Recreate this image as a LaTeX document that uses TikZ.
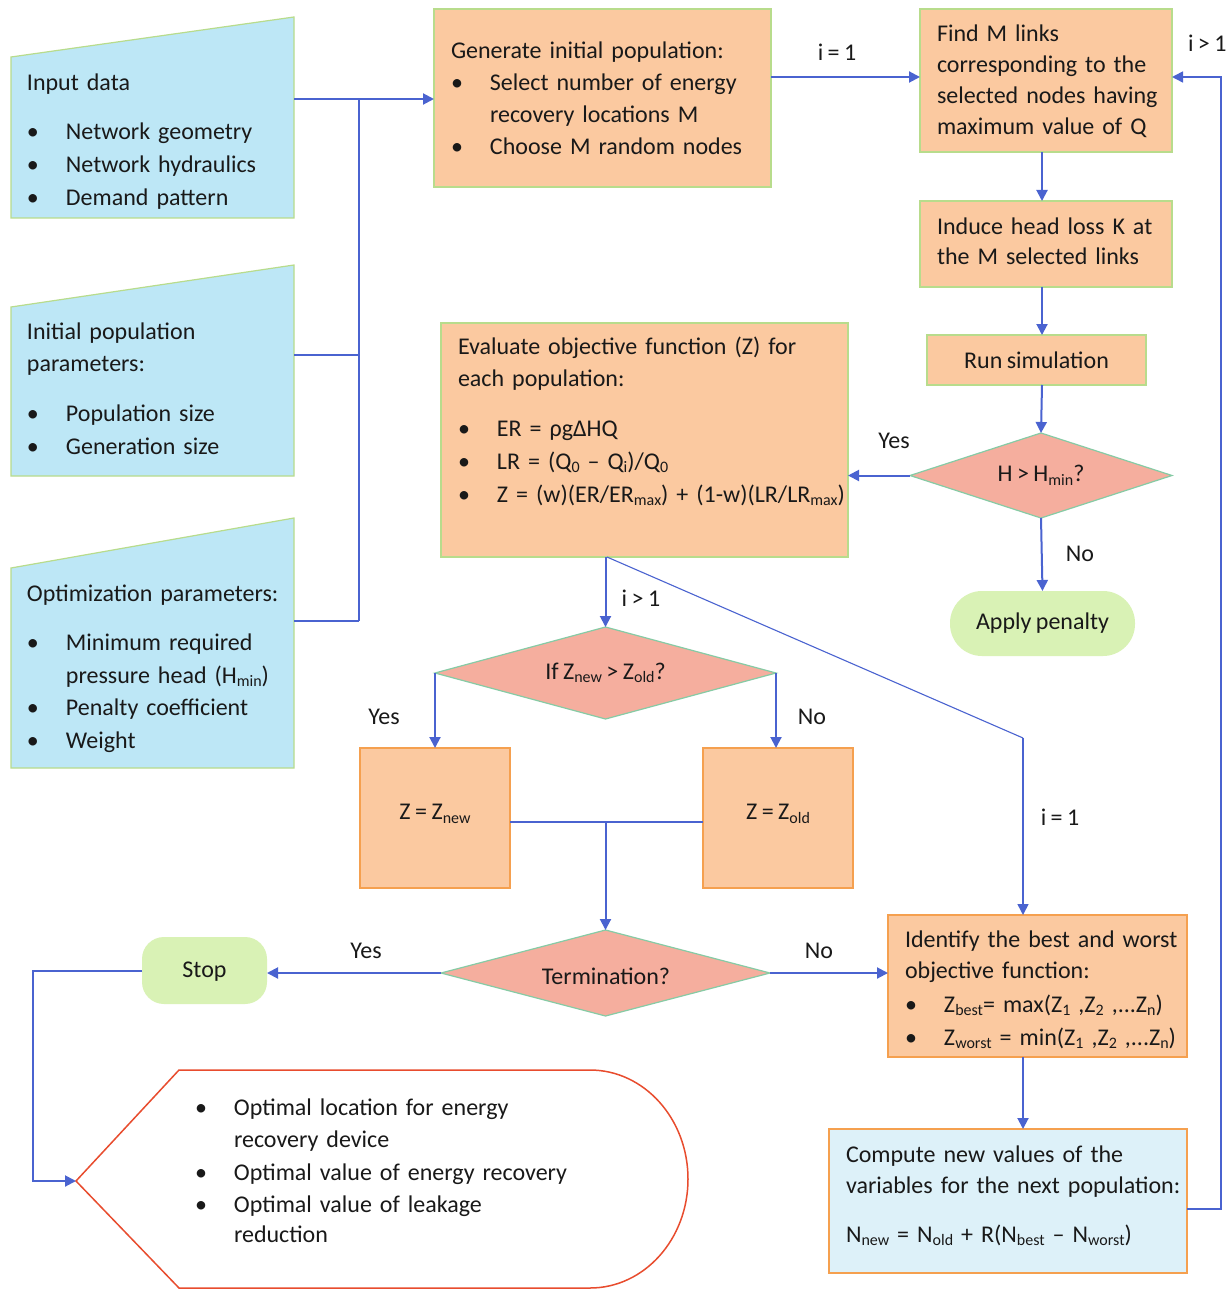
\documentclass[tikz,border=0pt]{standalone}
\usepackage{fontspec}
\setmainfont{Carlito}[WordSpace=0.82]
\usetikzlibrary{arrows.meta,shapes.geometric,calc}
\definecolor{peach}{HTML}{FBC9A0}
\definecolor{inblue}{HTML}{BDE7F6}
\definecolor{lightblue}{HTML}{DDF1F9}
\definecolor{boxgreen}{HTML}{B8DC8C}
\definecolor{boxorange}{HTML}{F5A04F}
\definecolor{salmon}{HTML}{F5AE9E}
\definecolor{diagreen}{HTML}{86CBA5}
\definecolor{termgreen}{HTML}{D9F2B5}
\definecolor{lineblue}{HTML}{4A63D0}
\definecolor{dispred}{HTML}{E84C2E}
\newcommand\bl[1]{\makebox[39pt][l]{\textbullet}#1}
\newcommand\ind{\hspace*{39pt}}
\newcommand\sbs[1]{\raisebox{-3.5pt}{\fontsize{16}{16}\selectfont #1}}
\begin{document}
\begin{tikzpicture}[x=1pt,y=-1pt,
 every node/.style={font=\fontsize{24}{32}\selectfont,inner sep=0pt,outer sep=0pt,text=black!90},
 arr/.style={draw=lineblue,line width=2pt,-{Triangle[length=11pt,width=11pt]}},
 midarr/.style={draw=lineblue,line width=1.6pt,-{Triangle[length=11pt,width=11pt]}},
 thinln/.style={draw=lineblue,line width=1.1pt},
 fbk/.style={draw=lineblue,line width=1.6pt,-{Triangle[length=11pt,width=11pt]}},
 inputbox/.style={fill=inblue,draw=boxgreen,line width=1.2pt},
 pbox/.style={rectangle,fill=peach,draw=boxgreen,line width=1.2pt},
 obox/.style={rectangle,fill=peach,draw=boxorange,line width=1.5pt},
 cbox/.style={rectangle,fill=lightblue,draw=boxorange,line width=1.5pt},
 dia/.style={diamond,aspect=3.5,fill=salmon,draw=diagreen,line width=1.2pt},
 termbox/.style={rectangle,rounded corners=#1,fill=termgreen},
 termbox/.default=20pt,
 txt/.style={anchor=base west,text width=420pt,align=left},
 lbl/.style={anchor=base}
]
\useasboundingbox (0,0) rectangle (1231,1289);
\fill[white] (0,0) rectangle (1231,1289);

% ---------- input shapes ----------
\filldraw[inputbox] (11,57) -- (294,17) -- (294,218) -- (11,218) -- cycle;
\filldraw[inputbox] (11,307) -- (294,265) -- (294,476) -- (11,476) -- cycle;
\filldraw[inputbox] (11,568) -- (294,518) -- (294,768) -- (11,768) -- cycle;
\coordinate (in1) at (294,99);
\coordinate (in2) at (294,355);
\coordinate (in3) at (294,621);
\coordinate (bus1) at (359,99);
\coordinate (bus3) at (359,621);

\node[txt] (in1-t) at (27,91) {Input data\\[17pt]\bl{Network geometry}\\[1pt]\bl{Network hydraulics}\\[1pt]\bl{Demand pattern}};
\node[txt] (in2-t) at (27,339) {Initial population\\parameters:\\[18pt]\bl{Population size}\\[1pt]\bl{Generation size}};
\node[txt] (in3-t) at (27,601) {Optimization parameters:\\[17pt]\bl{Minimum required}\\[1pt]\ind pressure head (H\sbs{min})\\[0pt]\bl{Penalty coefficient}\\[1pt]\bl{Weight}};

% ---------- boxes ----------
\node[pbox,minimum width=337pt,minimum height=178pt] (gen) at (602.5,98) {};
\node[txt] (gen-t) at (451,59) {Generate initial population:\\\bl{Select number of energy}\\\ind recovery locations M\\\bl{Choose M random nodes}};

\node[pbox,minimum width=252pt,minimum height=143pt] (find) at (1046,80.5) {};
\node[txt] (find-t) at (937,42) {Find M links\\[-1pt]corresponding to the\\[-1pt]selected nodes having\\[-1pt]maximum value of Q};

\node[pbox,minimum width=252pt,minimum height=86pt] (induce) at (1046,244) {};
\node[txt] (induce-t) at (937,234) {Induce head loss K at\\[-1pt]the M selected links};

\node[pbox,minimum width=219pt,minimum height=50pt] (run) at (1036.5,360) {Run simulation};

\node[dia,minimum width=262pt,minimum height=85pt] (dH) at (1041,475.5) {H > H\sbs{min}?};

\node[termbox=32pt,minimum width=185pt,minimum height=65pt] (apply) at (1042.5,623.5) {Apply penalty};

\node[pbox,minimum width=407pt,minimum height=234pt] (eval) at (644.5,440) {};
\node[txt] (eval-t) at (458,354) {Evaluate objective function (Z) for\\each population:\\[18pt]\bl{ER = ρgΔHQ}\\[1pt]\bl{LR = (Q\sbs{0} – Q\sbs{i})/Q\sbs{0}}\\[1pt]\bl{Z = (w)(ER/ER\sbs{max}) + (1-w)(LR/LR\sbs{max})}};

\node[dia,minimum width=341pt,minimum height=92pt] (dZ) at (605.5,673) {If Z\sbs{new} > Z\sbs{old}?};

\node[obox,minimum width=150pt,minimum height=140pt] (znew) at (435,818) {};
\node (znew-t) at (435,814) {Z = Z\sbs{new}};
\node[obox,minimum width=150pt,minimum height=140pt] (zold) at (778,818) {};
\node (zold-t) at (778,814) {Z = Z\sbs{old}};

\node[dia,minimum width=329pt,minimum height=86pt] (dT) at (605.5,973) {};
\node (dT-t) at (606,976) {Termination?};

\node[termbox=22pt,minimum width=125pt,minimum height=67pt] (stop) at (204.5,970.5) {};
\node (stop-t) at (204.5,972) {Stop};

\node[obox,minimum width=299pt,minimum height=142pt] (ident) at (1037.5,986) {};
\node[txt] (ident-t) at (905,947) {Identify the best and worst\\[-1pt]objective function:\\[2pt]\bl{Z\sbs{best}= max(Z\sbs{1} ,Z\sbs{2} ,...Z\sbs{n})}\\[1pt]\bl{Z\sbs{worst} = min(Z\sbs{1} ,Z\sbs{2} ,...Z\sbs{n})}};

\node[cbox,minimum width=358pt,minimum height=144pt] (comp) at (1008,1201) {};
\node[txt] (comp-t) at (846,1162) {Compute new values of the\\[-1pt]variables for the next population:\\[17pt]N\sbs{new} = N\sbs{old} + R(N\sbs{best} – N\sbs{worst})};

% ---------- display (output) shape ----------
\draw[dispred,line width=1.5pt,fill=white] (76,1181) -- (179,1070) -- (590,1070)
  arc[start angle=-90,end angle=90,x radius=98,y radius=109] -- (179,1288) -- cycle;
\coordinate (disp) at (76,1181);
\node[txt] (disp-t) at (195,1115) {\bl{Optimal location for energy}\\\ind recovery device\\[1pt]\bl{Optimal value of energy recovery}\\\bl{Optimal value of leakage}\\[-2pt]\ind reduction};

% ---------- connectors ----------
\draw[arr] (in1) -- (in1 -| gen.west);
\draw[thinln] (bus1) -- (bus3);
\draw[thinln] (in2) -- (in2 -| bus1);
\draw[thinln] (in3) -- (bus3);

\coordinate (fe) at (1172,77);
\coordinate (vx) at (1042,0);
\draw[arr] (gen.east |- fe) -- (find.west |- fe);
\node[lbl] (l-i1) at (837,61) {i = 1};
\draw[arr] (find.south -| vx) -- (induce.north -| vx);
\draw[arr] (induce.south -| vx) -- (run.north -| vx);
\draw[arr] (run.south -| vx) -- (dH.north);
\draw[arr] (dH.west) -- (dH.west -| eval.east);
\node[lbl] (l-yes1) at (894,448) {Yes};
\draw[arr] (dH.south) -- (apply.north);
\node[lbl] (l-no1) at (1080,561) {No};

\draw[arr] (dZ.north |- eval.south) -- (dZ.north);
\node[lbl] (l-ig1) at (641,606) {i > 1};
\coordinate (dg0) at (607,557);
\coordinate (dg1) at (1023,738);
\draw[thinln] (dg0) -- (dg1);
\draw[midarr] (dg1) -- (dg1 |- ident.north);
\node[lbl] (l-i1b) at (1060,825) {i = 1};

\draw[arr] (dZ.west) -- (dZ.west |- znew.north);
\draw[arr] (dZ.east) -- (dZ.east |- zold.north);
\node[lbl] (l-yes2) at (384,724) {Yes};
\node[lbl] (l-no2) at (812,724) {No};
\coordinate (zj) at (605.5,822);
\draw[thinln] (znew.east |- zj) -- (zold.west |- zj);
\draw[arr] (zj) -- (dT.north);

\draw[arr] (dT.west) -- (dT.west -| stop.east);
\node[lbl] (l-yes3) at (366,958) {Yes};
\draw[arr] (dT.east) -- (dT.east -| ident.west);
\node[lbl] (l-no3) at (819,958) {No};

\coordinate (sl) at (33,971);
\draw[arr] (stop.west) -- (stop.west -| sl) -- (sl |- disp) -- (disp);

\coordinate (vx2) at (1023,0);
\draw[arr] (ident.south -| vx2) -- (comp.north -| vx2);

\coordinate (rx) at (1221,0);
\coordinate (cy) at (0,1209);
\draw[fbk] (comp.east |- cy) -- (rx |- cy) -- (rx |- fe) -- (find.east |- fe);
\node[anchor=base west] (l-ig1b) at (1188,52) {i > 1};
\end{tikzpicture}
\end{document}
